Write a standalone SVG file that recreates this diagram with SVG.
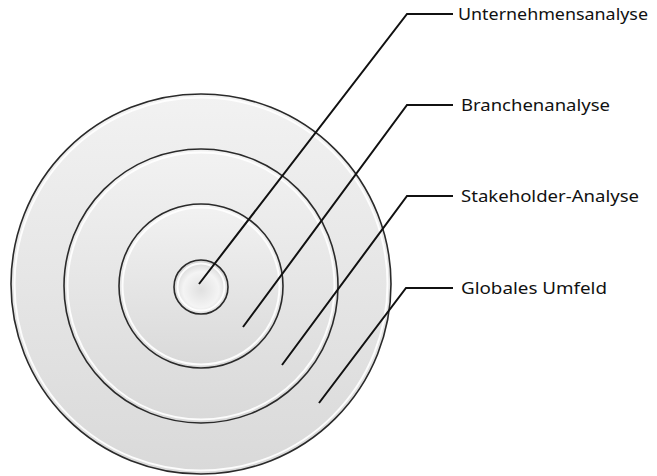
<svg xmlns="http://www.w3.org/2000/svg" width="657" height="476" viewBox="0 0 657 476">
<defs>
<linearGradient id="g" x1="0" y1="0" x2="0" y2="1">
<stop offset="0" stop-color="#f2f2f2"/>
<stop offset="1" stop-color="#d9d9d9"/>
</linearGradient>
<radialGradient id="dome" cx="0.5" cy="0.55" r="0.55">
<stop offset="0" stop-color="#e0e0e0"/>
<stop offset="0.6" stop-color="#f4f4f4"/>
<stop offset="1" stop-color="#d0d0d0"/>
</radialGradient>
</defs>
<style>
.ring{fill:url(#g);stroke:#2a2a2a;stroke-width:1.6}
.hl{fill:none;stroke:#ffffff;stroke-width:2;opacity:0.9}
.conn{fill:none;stroke:#111;stroke-width:2;stroke-linejoin:miter}
.lbl{font-family:"Noto Sans","Liberation Sans",sans-serif;font-size:16.5px;fill:#111}
</style>
<rect width="657" height="476" fill="#ffffff"/>
<g id="globales-umfeld">
<circle class="ring" cx="201" cy="284" r="190"/>
<circle class="hl" cx="201" cy="284" r="186.5"/>
</g>
<g id="stakeholder-analyse">
<circle class="ring" cx="201" cy="286" r="137"/>
<circle class="hl" cx="201" cy="286" r="133.5"/>
</g>
<g id="branchenanalyse">
<circle class="ring" cx="201" cy="286" r="82"/>
<circle class="hl" cx="201" cy="286" r="78.5"/>
</g>
<g id="unternehmensanalyse">
<circle cx="201" cy="287" r="27" fill="url(#dome)" stroke="#2a2a2a" stroke-width="1.6"/>
<circle class="hl" cx="201" cy="287" r="23.5"/>
</g>
<g id="connectors">
<polyline class="conn" points="199,284 407,14 453,14"/>
<polyline class="conn" points="243,327 407,105 453,105"/>
<polyline class="conn" points="282,365 407,196 453,196"/>
<polyline class="conn" points="319,403 406,288 453,288"/>
</g>
<g id="labels">
<text class="lbl" x="458" y="20" textLength="190" lengthAdjust="spacingAndGlyphs">Unternehmensanalyse</text>
<text class="lbl" x="461" y="111" textLength="149" lengthAdjust="spacingAndGlyphs">Branchenanalyse</text>
<text class="lbl" x="461" y="202" textLength="178" lengthAdjust="spacingAndGlyphs">Stakeholder-Analyse</text>
<text class="lbl" x="461" y="294" textLength="146" lengthAdjust="spacingAndGlyphs">Globales Umfeld</text>
</g>
</svg>
